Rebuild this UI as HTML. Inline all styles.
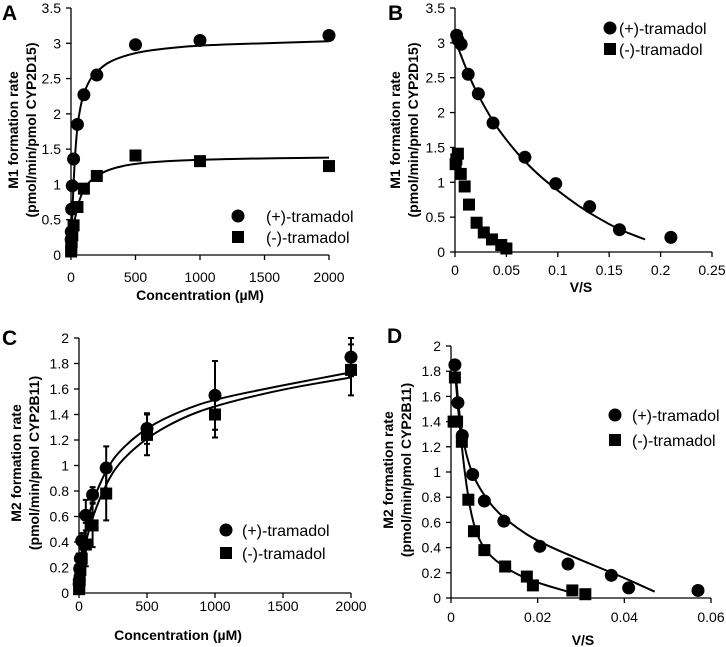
<!DOCTYPE html>
<html><head><meta charset="utf-8"><style>
body{margin:0;background:#fff}
svg{display:block;font-family:"Liberation Sans",sans-serif}
</style></head><body>
<svg id="fig" width="726" height="647" viewBox="0 0 726 647" xmlns="http://www.w3.org/2000/svg"></svg>
<script>
// Panel A data
const aPlusX=[1,2,5,10,20,50,100,200,500,1000,2000];
const aPlusY=[0.22,0.33,0.65,0.98,1.36,1.85,2.27,2.55,2.98,3.04,3.11];
const aMinusX=[1,2,5,10,20,50,100,200,500,1000,2000];
const aMinusY=[0.05,0.1,0.18,0.28,0.42,0.68,0.94,1.12,1.41,1.33,1.26];
const aPlusFitX=[0,5,10,15,30,50,75,100,150,200,300,500,750,1000,1500,2000];
const aPlusFitY=[0,0.3,0.55,0.8,1.4,1.85,2.12,2.3,2.5,2.6,2.75,2.87,2.93,2.97,3.0,3.03];
const aMinusFitX=[0,10,20,50,100,150,200,300,500,750,1000,1500,2000];
const aMinusFitY=[0,0.25,0.4,0.7,0.95,1.05,1.12,1.22,1.3,1.33,1.35,1.37,1.38];
// Panel B data
const bPlusX=[0.0016,0.003,0.006,0.0128,0.0227,0.037,0.068,0.098,0.131,0.16,0.21];
const bPlusY=[3.11,3.04,2.98,2.55,2.27,1.85,1.36,0.98,0.65,0.32,0.21];
const bMinusX=[0.0006,0.0013,0.0028,0.0056,0.0094,0.0136,0.021,0.028,0.036,0.045,0.05];
const bMinusY=[1.26,1.33,1.41,1.12,0.94,0.68,0.42,0.28,0.18,0.1,0.05];
const bPlusFitX=[0,0.01,0.02,0.03,0.04,0.06,0.08,0.1,0.12,0.14,0.16,0.185];
const bPlusFitY=[3.05,2.65,2.32,2.05,1.8,1.42,1.12,0.88,0.66,0.48,0.32,0.18];
// Panel C data
const cPlusX=[1,2,5,10,20,50,100,200,500,1000,2000];
const cPlusY=[0.07,0.1,0.19,0.27,0.41,0.61,0.77,0.98,1.29,1.55,1.85];
const cPlusErr=[0.02,0.02,0.03,0.04,0.06,0.12,0.06,0.17,0.12,0.27,0.15];
const cMinusX=[1,2,5,10,20,50,100,200,500,1000,2000];
const cMinusY=[0.03,0.06,0.1,0.18,0.27,0.38,0.53,0.78,1.24,1.4,1.75];
const cMinusErr=[0.02,0.02,0.03,0.05,0.08,0.17,0.17,0.21,0.16,0.18,0.2];
const cPlusFitX=[0,10,25,50,100,200,300,500,750,1000,1500,2000];
const cPlusFitY=[0,0.17,0.35,0.52,0.72,0.97,1.12,1.3,1.43,1.52,1.63,1.73];
const cMinusFitX=[0,10,25,50,100,200,300,500,750,1000,1500,2000];
const cMinusFitY=[0,0.11,0.25,0.4,0.6,0.86,1.03,1.22,1.37,1.47,1.6,1.69];
// Panel D data
const dPlusX=[0.0009,0.0016,0.0026,0.005,0.0077,0.0122,0.0205,0.027,0.037,0.041,0.057];
const dPlusY=[1.85,1.55,1.29,0.98,0.77,0.61,0.41,0.27,0.18,0.08,0.06];
const dMinusX=[0.0009,0.0006,0.0014,0.0025,0.004,0.0053,0.0077,0.0125,0.0175,0.0189,0.028,0.031];
const dMinusY=[1.75,1.4,1.4,1.24,0.78,0.53,0.38,0.25,0.17,0.1,0.06,0.03];
const dPlusFitX=[0.0008,0.0015,0.0025,0.004,0.006,0.01,0.015,0.02,0.03,0.04,0.047];
const dPlusFitY=[1.9,1.6,1.3,1.07,0.9,0.7,0.56,0.45,0.3,0.16,0.05];
const dMinusFitX=[0.0008,0.0015,0.0025,0.0035,0.005,0.007,0.01,0.015,0.02,0.025,0.028];
const dMinusFitY=[1.85,1.55,1.2,0.9,0.6,0.42,0.3,0.19,0.12,0.07,0.04];
// tick labels
const aXTicks=["0","500","1000","1500","2000"];
const aYTicks=["0","0.5","1","1.5","2","2.5","3","3.5"];
const bXTicks=["0","0.05","0.1","0.15","0.2","0.25"];
const cYTicks=["0","0.2","0.4","0.6","0.8","1","1.2","1.4","1.6","1.8","2"];
const dXTicks=["0","0.02","0.04","0.06"];

const NS="http://www.w3.org/2000/svg";
const svg=document.getElementById('fig');
function mk(tag,attrs,parent,text){const e=document.createElementNS(NS,tag);for(const k in attrs)e.setAttribute(k,attrs[k]);if(text!==undefined)e.textContent=text;(parent||svg).appendChild(e);return e;}

function smooth(pts){
  let d='M'+pts[0][0].toFixed(1)+','+pts[0][1].toFixed(1);
  for(let i=1;i<pts.length-1;i++){
    const mx=(pts[i][0]+pts[i+1][0])/2,my=(pts[i][1]+pts[i+1][1])/2;
    d+='Q'+pts[i][0].toFixed(1)+','+pts[i][1].toFixed(1)+' '+mx.toFixed(1)+','+my.toFixed(1);
  }
  const l=pts[pts.length-1];d+='L'+l[0].toFixed(1)+','+l[1].toFixed(1);
  return d;
}

function panel(p){
  const g=mk('g',{});
  
  
  const sx=v=>p.x0+(v-p.xmin)/(p.xmax-p.xmin)*(p.x1-p.x0);
  const sy=v=>p.y0-(v-p.ymin)/(p.ymax-p.ymin)*(p.y0-p.y1);
  const ax=mk('g',{stroke:'#000','stroke-width':1.3},g);
  
  
  mk('line',{x1:p.x0,y1:p.y0,x2:p.x1,y2:p.y0},ax);
  mk('line',{x1:p.x0,y1:p.y0,x2:p.x0,y2:p.y1},ax);
  p.xt.forEach(t=>{const X=sx(+t);mk('line',{x1:X,y1:p.y0,x2:X,y2:p.y0+5},ax);
    const tx=mk('text',{x:X,y:p.xtb,'font-size':14,'text-anchor':'middle'},g,t);
    
    });
  p.yt.forEach(t=>{const Y=sy(+t);mk('line',{x1:p.x0-5,y1:Y,x2:p.x0,y2:Y},ax);
    const tx=mk('text',{x:p.x0-10,y:Y+5,'font-size':14,'text-anchor':'end'},g,t);
    
    });
  p.fits.forEach(f=>{const pts=f[0].map((v,i)=>[sx(v),sy(f[1][i])]);
    const pa=mk('path',{d:smooth(pts),fill:'none',stroke:'#000','stroke-width':2},g);
    
    });
  p.series.forEach(s=>{s.x.forEach((v,i)=>{const X=sx(v),Y=sy(s.y[i]);
    if(s.err){const e1=sy(s.y[i]+s.err[i]),e2=sy(s.y[i]-s.err[i]);
      const eb=mk('path',{d:`M${X},${e1}L${X},${e2}M${X-3},${e1}L${X+3},${e1}M${X-3},${e2}L${X+3},${e2}`,stroke:'#000','stroke-width':2},g);
      
      }
    let m;
    if(s.shape==='c'){m=mk('circle',{cx:X,cy:Y,r:6.5,fill:'#000'},g);}
    else{m=mk('rect',{x:X-6,y:Y-6,width:12,height:12,fill:'#000'},g);}
    });});
  const L=p.leg;
  const lc=mk('circle',{cx:L.x,cy:L.y,r:6.5,fill:'#000'},g);
  
  
  const lt1=mk('text',{x:L.tx,y:L.y+6,'font-size':16},g,'(+)-tramadol');
  
  
  const ls=mk('rect',{x:L.x-6,y:L.y+L.dy-6,width:12,height:12,fill:'#000'},g);
  
  
  const lt2=mk('text',{x:L.tx,y:L.y+L.dy+6,'font-size':16},g,'(-)-tramadol');
  
  
  const xt=mk('text',{x:p.xl[0],y:p.xl[1],'font-size':14,'font-weight':'bold','text-anchor':'middle'},g,p.xlab);
  
  
  const yt=mk('text',{transform:`translate(${p.yl[0]},${p.yl[2]}) rotate(-90)`,'font-size':14,'font-weight':'bold','text-anchor':'middle'},g);
  
  
  mk('tspan',{x:0,y:0},yt,p.ylab[0]);
  mk('tspan',{x:0,y:p.yl[1]-p.yl[0]},yt,p.ylab[1]);
  const pl=mk('text',{x:p.lab[0],y:p.lab[1],'font-size':21,'font-weight':'bold'},g,p.id);
  
  
}
panel({id:'A',x0:71,x1:329,y0:255,y1:8,xmin:0,xmax:2000,ymin:0,ymax:3.5,xt:aXTicks,yt:aYTicks,xtb:282,
  fits:[[aPlusFitX,aPlusFitY],[aMinusFitX,aMinusFitY]],
  series:[{x:aMinusX,y:aMinusY,shape:'s'},{x:aPlusX,y:aPlusY,shape:'c'}],
  leg:{x:238,y:216,tx:266,dy:21},xl:[200,300],xlab:'Concentration (µM)',
  yl:[18,36,130],ylab:['M1 formation rate','(pmol/min/pmol CYP2D15)'],lab:[2,20]});
panel({id:'B',x0:455,x1:712,y0:252,y1:8,xmin:0,xmax:0.25,ymin:0,ymax:3.5,xt:bXTicks,yt:aYTicks,xtb:275,
  fits:[[bPlusFitX,bPlusFitY]],
  series:[{x:bMinusX,y:bMinusY,shape:'s'},{x:bPlusX,y:bPlusY,shape:'c'}],
  leg:{x:610,y:28,tx:619,dy:21},xl:[581,292],xlab:'V/S',
  yl:[400,418,130],ylab:['M1 formation rate','(pmol/min/pmol CYP2D15)'],lab:[388,20]});
panel({id:'C',x0:79,x1:351,y0:593,y1:338,xmin:0,xmax:2000,ymin:0,ymax:2,xt:aXTicks,yt:cYTicks,xtb:611,
  fits:[[cPlusFitX,cPlusFitY],[cMinusFitX,cMinusFitY]],
  series:[{x:cMinusX,y:cMinusY,err:cMinusErr,shape:'s'},{x:cPlusX,y:cPlusY,err:cPlusErr,shape:'c'}],
  leg:{x:226,y:530,tx:242,dy:23},xl:[178,640],xlab:'Concentration (µM)',
  yl:[21,39,463],ylab:['M2 formation rate','(pmol/min/pmol CYP2B11)'],lab:[2,345]});
panel({id:'D',x0:451,x1:711,y0:598,y1:346,xmin:0,xmax:0.06,ymin:0,ymax:2,xt:dXTicks,yt:cYTicks,xtb:622,
  fits:[[dPlusFitX,dPlusFitY],[dMinusFitX,dMinusFitY]],
  series:[{x:dMinusX,y:dMinusY,shape:'s'},{x:dPlusX,y:dPlusY,shape:'c'}],
  leg:{x:615,y:415,tx:632,dy:25},xl:[583,645],xlab:'V/S',
  yl:[393,411,470],ylab:['M2 formation rate','(pmol/min/pmol CYP2B11)'],lab:[387,343]});
</script>
</body></html>
